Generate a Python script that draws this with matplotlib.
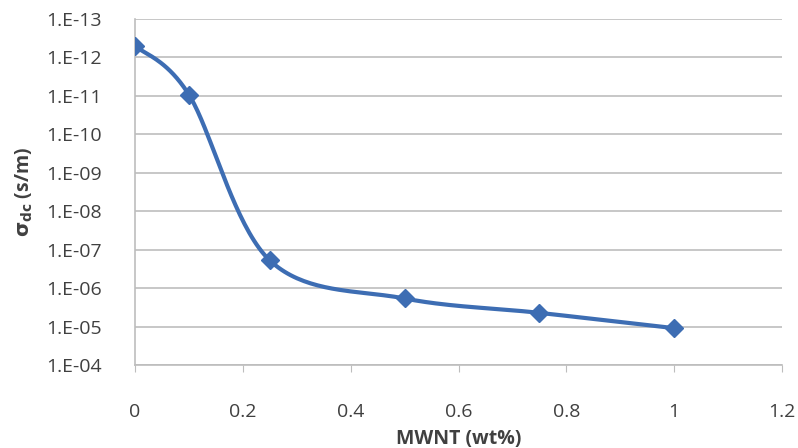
import numpy as np
import matplotlib
matplotlib.use("Agg")
import matplotlib.pyplot as plt
from matplotlib.ticker import FixedLocator, FuncFormatter

# data
mwnt = [0.0, 0.1, 0.25, 0.5, 0.75, 1.0]
sigma = [5.0e-13, 9.3e-12, 1.9e-7, 1.86e-6, 4.4e-6, 1.1e-5]
y_ticks = [1e-13, 1e-12, 1e-11, 1e-10, 1e-9, 1e-8, 1e-7, 1e-6, 1e-5, 1e-4]
x_ticks = [0, 0.2, 0.4, 0.6, 0.8, 1.0, 1.2]


def smooth(x, y, n=40):
    """Excel-style smoothed line: Catmull-Rom as cubic Bezier, in (x, log y)."""
    x = np.asarray(x, float)
    ly = np.log10(np.asarray(y, float))
    P = np.column_stack([x, ly])
    out = []
    for i in range(len(P) - 1):
        p0 = P[i - 1] if i > 0 else P[i]
        p1, p2 = P[i], P[i + 1]
        p3 = P[i + 2] if i + 2 < len(P) else P[i + 1]
        c1 = p1 + (p2 - p0) / 6.0
        c2 = p2 - (p3 - p1) / 6.0
        t = np.linspace(0, 1, n)[:, None]
        seg = ((1 - t) ** 3) * p1 + 3 * ((1 - t) ** 2) * t * c1 \
            + 3 * (1 - t) * t ** 2 * c2 + t ** 3 * p2
        out.append(seg if i == 0 else seg[1:])
    s = np.vstack(out)
    return s[:, 0], 10 ** s[:, 1]


plt.rcParams["font.family"] = ["Open Sans", "DejaVu Sans"]

fig = plt.figure(figsize=(7.98, 4.48), dpi=100)
ax = fig.add_axes([135 / 798, 1 - 365 / 448, (782 - 135) / 798, (365 - 19) / 448])

color = "#3D6DB3"
sx, sy = smooth(mwnt, sigma)
ax.plot(sx, sy, color=color, lw=3, solid_capstyle="round", zorder=3)
ax.plot(mwnt, sigma, ls="none", marker="D", ms=9, color=color, zorder=4)

ax.set_yscale("log")
ax.set_ylim(1e-4, 1e-13)
ax.set_xlim(0, 1.2)
ax.yaxis.set_major_locator(FixedLocator(y_ticks))
ax.yaxis.set_minor_locator(FixedLocator([]))
ax.yaxis.set_major_formatter(FuncFormatter(lambda v, p: "1.E-%02d" % round(-np.log10(v))))
ax.xaxis.set_major_locator(FixedLocator(x_ticks))
ax.xaxis.set_major_formatter(FuncFormatter(lambda v, p: ("%g" % v)))

ax.grid(axis="y", color="#BDBDBD", lw=1.2)
ax.set_axisbelow(True)
for s in ["top", "right"]:
    ax.spines[s].set_visible(False)
for s in ["left", "bottom"]:
    ax.spines[s].set_color("#BDBDBD")
    ax.spines[s].set_linewidth(1.2)
ax.tick_params(axis="y", length=0, pad=24, labelsize=14, labelcolor="#404040")
ax.tick_params(axis="x", length=5, color="#BDBDBD", pad=22, labelsize=14, labelcolor="#404040")

ax.set_xlabel("MWNT (wt%)", fontsize=14, fontweight="bold", color="#404040", labelpad=6)
ax.set_ylabel(r"$\mathbf{\sigma_{dc}}$ (s/m)", fontsize=14, fontweight="bold", color="#404040", labelpad=8)

fig.savefig("out.png", dpi=100)
